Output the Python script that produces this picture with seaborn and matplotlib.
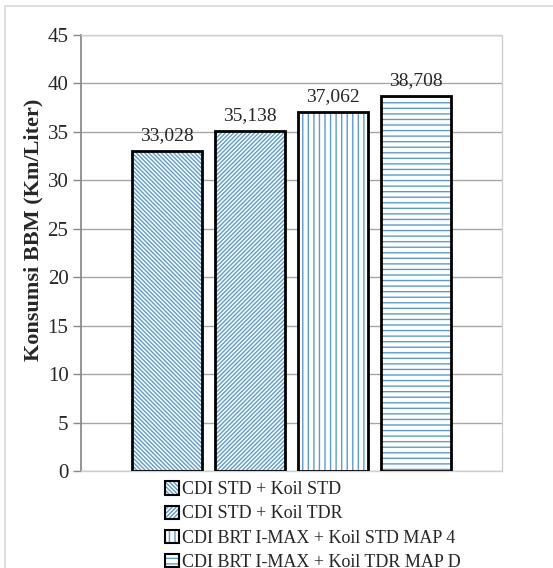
import matplotlib
matplotlib.use("Agg")
import matplotlib.pyplot as plt
import seaborn as sns
from matplotlib.patches import Patch, Rectangle

# data
labels = ["CDI STD + Koil STD", "CDI STD + Koil TDR",
          "CDI BRT I-MAX + Koil STD MAP 4", "CDI BRT I-MAX + Koil TDR MAP D"]
values = [33.028, 35.138, 37.062, 38.708]
hatches = ["\\" * 8, "/" * 8, "|||", "---"]
yticks = [0, 5, 10, 15, 20, 25, 30, 35, 40, 45]

blue = "#5b9bd5"

sns.set_theme(style="white")
plt.rcParams["font.family"] = ["Liberation Serif", "DejaVu Serif"]
plt.rcParams["hatch.linewidth"] = 1.0

fig = plt.figure(figsize=(5.53, 5.68), dpi=100)
ax = fig.add_axes([81 / 553, 97 / 568, 421 / 553, 436 / 568])

# thin frame around the whole figure
fig.patches.append(Rectangle((5 / 553, -0.05), 1.0, 0.05 + 562 / 568,
                             transform=fig.transFigure, fill=False,
                             ec="#d9d9d9", lw=1.2, clip_on=False))

sns.barplot(x=labels, y=values, hue=labels, palette=["white"] * 4,
            legend=False, width=0.84, ax=ax, saturation=1)

bars = list(ax.patches)
for p, h in zip(bars, hatches):
    p.set_hatch(h)
    p.set_edgecolor(blue)
    p.set_linewidth(0)
    # black outline drawn over the hatched bar
    ax.add_patch(Rectangle(p.get_xy(), p.get_width(), p.get_height(),
                           fill=False, ec="black", lw=2, zorder=3))

for p, v in zip(bars, values):
    ax.annotate(f"{v:.3f}".replace(".", ","),
                (p.get_x() + p.get_width() / 2, p.get_height()),
                xytext=(0, 5), textcoords="offset points",
                ha="center", va="bottom", fontsize=14)

ax.set_ylim(0, 45)
ax.set_xlim(-1.04, 4.04)
ax.set_yticks(yticks)
ax.set_yticklabels([str(t) for t in yticks], fontsize=15)
ax.set_xticks([])
ax.set_xlabel("")
ax.set_ylabel("Konsumsi BBM (Km/Liter)", fontsize=16, fontweight="bold")
ax.yaxis.set_label_coords(-0.09, 0.553)

ax.yaxis.grid(True, color="#a6a6a6", lw=1)
ax.set_axisbelow(True)
ax.tick_params(axis="y", which="both", left=True, length=6, width=1,
               color="#888888", pad=3)
ax.spines["left"].set_color("#888888")
for s in ["top", "right", "bottom"]:
    ax.spines[s].set_color("#d0d0d0")
    ax.spines[s].set_linewidth(1)
    ax.spines[s].set_linestyle((0, (1, 1)))

handles = [(Patch(facecolor="white", edgecolor=blue, hatch=h, lw=0),
            Patch(fill=False, edgecolor="black", lw=1.5)) for h in hatches]
fig.legend(handles, labels, loc="upper left",
           bbox_to_anchor=(158 / 553, 1 - 474 / 568), frameon=False,
           fontsize=13, handlelength=0.75, handleheight=0.75,
           handletextpad=0.2, labelspacing=0.4, borderaxespad=0)

fig.savefig("out.png", dpi=100)
